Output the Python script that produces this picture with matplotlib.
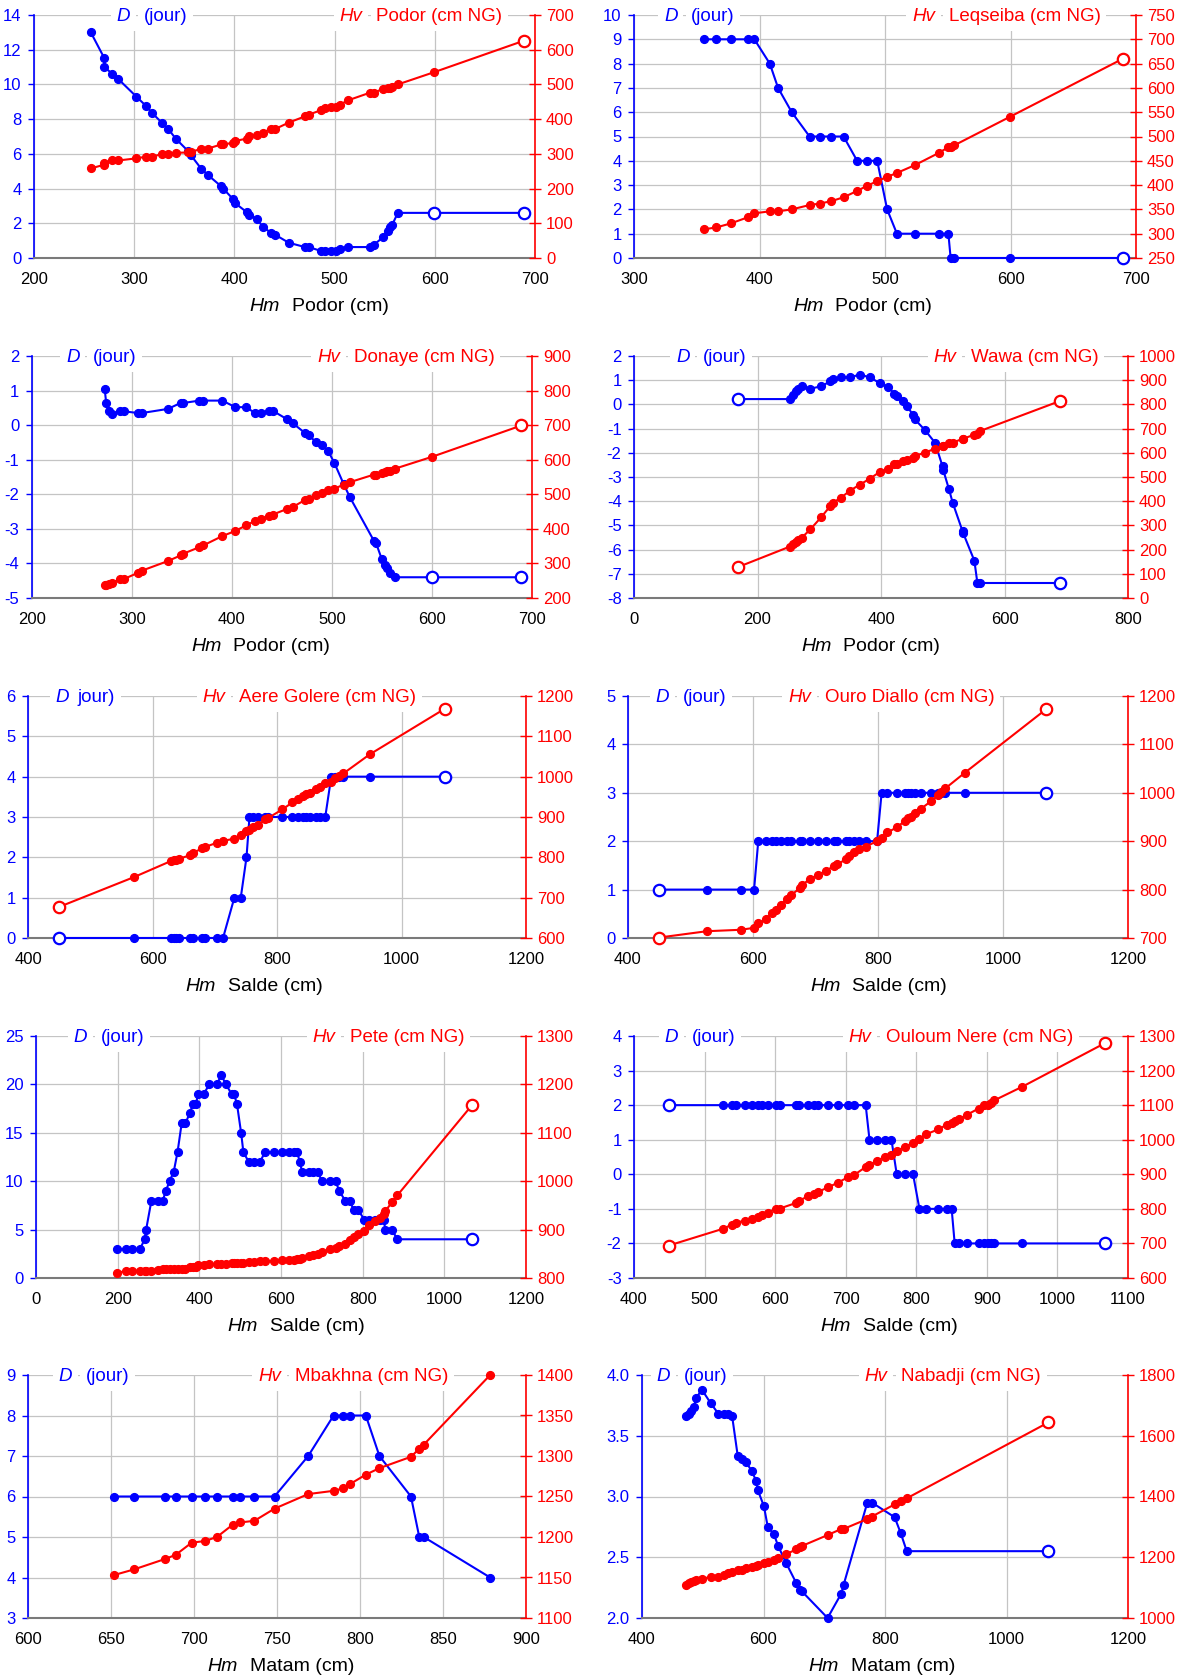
import matplotlib
matplotlib.use("Agg")
import matplotlib.pyplot as plt
from matplotlib.ticker import FormatStrFormatter
import numpy as np

plt.rcParams['font.family'] = ['Liberation Sans', 'DejaVu Sans']

BLUE = '#0000ff'
RED = '#ff0000'
GRID = '#c4c4c4'

# ---------------- data ----------------
podor_hm = [256.7, 270.3, 270.3, 278.3, 284.3, 302.1, 312.0, 317.6, 327.5, 333.9, 341.4, 353.6, 356.6, 366.8,
            373.2, 386.8, 389.1, 398.6, 400.5, 412.6, 414.8, 422.4, 428.4, 436.4, 441.0, 454.2, 470.4, 474.2,
            486.7, 490.5, 496.1, 501.8, 505.6, 513.2, 535.1, 539.3, 548.7, 552.9, 555.5, 557.4, 563.1, 599.0, 689.0]
podor_d = [13.0, 11.5, 11.0, 10.6, 10.3, 9.3, 8.75, 8.37, 7.8, 7.44, 6.88, 6.17, 5.92, 5.15, 4.8, 4.13, 3.98,
           3.4, 3.17, 2.63, 2.46, 2.27, 1.79, 1.46, 1.33, 0.88, 0.63, 0.63, 0.4, 0.4, 0.4, 0.4, 0.54, 0.63, 0.63,
           0.77, 1.21, 1.56, 1.79, 1.9, 2.6, 2.6, 2.6]
podor_hv = [258, 269, 275, 281, 281, 287, 292, 292, 299, 299, 303, 304, 306, 314, 315, 327, 327, 332, 337, 344,
            351, 354, 361, 372, 372, 390, 408, 413, 426, 431, 436, 436, 442, 454, 476, 476, 488, 491, 491, 493,
            500, 535, 626]

leqseiba_hm = [355.8, 365.7, 376.9, 391.0, 395.9, 408.2, 414.8, 425.7, 439.9, 448.0, 457.3, 467.0, 477.8, 486.0,
               493.8, 501.7, 509.5, 523.7, 542.7, 550.5, 552.3, 555.3, 599.9, 689.5]
leqseiba_d = [9, 9, 9, 9, 9, 8, 7, 6, 5, 5, 5, 5, 4, 4, 4, 2, 1, 1, 1, 1, 0, 0, 0, 0]
leqseiba_hv = [309, 313, 321, 334, 342, 346, 346, 350, 359, 362, 367, 375, 388, 399, 408, 417, 425, 441, 466,
               478, 479, 482, 541, 660]

donaye_hm = [272.7, 274.2, 276.5, 279.5, 288.3, 292.0, 306.1, 309.8, 336.0, 348.5, 351.1, 367.4, 371.2, 390.2,
             403.4, 414.0, 423.1, 429.2, 436.7, 440.5, 454.5, 460.6, 472.7, 476.5, 484.1, 489.8, 496.2, 502.3,
             511.6, 517.8, 542.0, 543.9, 549.6, 553.0, 555.3, 558.0, 562.9, 599.6, 689.4]
donaye_d = [1.04, 0.64, 0.40, 0.33, 0.40, 0.40, 0.35, 0.35, 0.47, 0.64, 0.64, 0.71, 0.71, 0.71, 0.52, 0.52,
            0.35, 0.35, 0.42, 0.42, 0.18, 0.06, -0.22, -0.28, -0.50, -0.57, -0.75, -1.09, -1.70, -2.08, -3.35,
            -3.40, -3.86, -4.04, -4.12, -4.28, -4.40, -4.40, -4.40]
donaye_hv = [238, 239, 241, 243, 255, 255, 273, 279, 307, 323, 328, 347, 352, 379, 394, 410, 423, 429, 438, 441,
             457, 463, 483, 487, 498, 505, 511, 516, 528, 535, 557, 557, 563, 564, 567, 567, 574, 608, 699]

wawa_hm = [168.6, 252.0, 256.9, 261.8, 265.5, 271.6, 285.7, 303.5, 317.6, 322.5, 335.4, 350.1, 365.4, 382.0,
           397.9, 412.0, 421.8, 426.1, 435.9, 442.1, 451.9, 454.9, 471.5, 487.4, 499.7, 500.9, 510.1, 516.2,
           532.2, 532.8, 551.2, 556.1, 560.4, 689.8]
wawa_d = [0.22, 0.22, 0.37, 0.54, 0.65, 0.75, 0.65, 0.75, 0.95, 1.05, 1.12, 1.12, 1.23, 1.12, 0.88, 0.72, 0.43,
          0.35, 0.14, -0.05, -0.45, -0.62, -1.07, -1.58, -2.56, -2.72, -3.51, -4.07, -5.25, -5.30, -6.46, -7.38,
          -7.38, -7.38]
wawa_hv = [128, 212, 222, 231, 240, 249, 284, 335, 379, 394, 415, 444, 468, 493, 521, 533, 552, 552, 566, 569,
           580, 587, 601, 617, 628, 628, 642, 642, 658, 658, 675, 678, 690, 814]

aere_hm = [449.9, 570.3, 629.9, 634.2, 638.4, 643.3, 660.3, 664.6, 679.8, 684.7, 703.5, 713.3, 731.5, 741.8,
           751.0, 755.8, 761.9, 769.2, 781.4, 786.3, 808.8, 824.6, 833.1, 841.0, 847.1, 853.2, 862.3, 868.4,
           877.5, 887.2, 893.9, 898.8, 906.7, 948.7, 1069.1]
aere_d = [0, 0, 0, 0, 0, 0, 0, 0, 0, 0, 0, 0, 1, 1, 2, 3, 3, 3, 3, 3, 3, 3, 3, 3, 3, 3, 3, 3, 3, 4, 4, 4, 4, 4, 4]
aere_hv = [677, 751, 791, 793, 794, 797, 805, 811, 822, 826, 836, 841, 846, 856, 865, 869, 874, 880, 894, 898,
           919, 936, 944, 952, 956, 960, 970, 974, 985, 988, 997, 1002, 1008, 1055, 1168]

ouro_hm = [450.3, 526.0, 580.5, 601.7, 608.4, 621.1, 630.2, 636.8, 645.3, 654.4, 660.4, 675.0, 678.6, 690.7,
           704.0, 716.8, 730.1, 734.9, 748.9, 754.3, 762.2, 770.1, 780.4, 798.5, 805.8, 814.9, 830.7, 842.8,
           848.2, 853.1, 859.1, 868.8, 885.2, 896.7, 901.5, 907.6, 938.5, 1069.3]
ouro_d = [1, 1, 1, 1, 2, 2, 2, 2, 2, 2, 2, 2, 2, 2, 2, 2, 2, 2, 2, 2, 2, 2, 2, 2, 3, 3, 3, 3, 3, 3, 3, 3, 3, 3,
          3, 3, 3, 3]
ouro_hv = [701, 714, 717, 721, 730, 739, 752, 757, 769, 781, 788, 803, 809, 822, 830, 839, 849, 852, 863, 869,
           878, 884, 889, 900, 907, 918, 929, 942, 947, 950, 958, 967, 983, 995, 1002, 1009, 1041, 1173]

pete_hm = [197.4, 220.6, 236.3, 254.9, 266.0, 269.7, 282.7, 298.4, 310.5, 317.9, 327.2, 337.4, 346.6, 356.8,
           366.1, 376.3, 384.6, 391.1, 397.6, 410.6, 424.5, 443.9, 453.2, 465.2, 479.1, 484.7, 492.1, 502.3,
           507.9, 520.9, 532.9, 548.7, 560.7, 582.0, 601.5, 620.0, 632.1, 639.5, 646.0, 651.5, 668.2, 678.4,
           690.5, 699.7, 720.1, 734.0, 742.4, 757.2, 769.2, 777.6, 789.6, 804.4, 816.5, 829.5, 841.5, 851.7,
           855.4, 871.2, 885.1, 1068.6]
pete_d = [3, 3, 3, 3, 4, 5, 8, 8, 8, 9, 10, 11, 13, 16, 16, 17, 18, 18, 19, 19, 20, 20, 21, 20, 19, 19, 18, 15,
          13, 12, 12, 12, 13, 13, 13, 13, 13, 13, 12, 11, 11, 11, 11, 10, 10, 10, 9, 8, 8, 7, 7, 6, 6, 6, 6, 6,
          5, 5, 4, 4]
pete_hv = [810, 815, 815, 815, 815, 815, 815, 816, 818, 818, 819, 819, 819, 819, 819, 822, 823, 823, 826, 827,
           828, 828, 829, 829, 830, 830, 830, 831, 832, 833, 834, 835, 836, 835, 837, 837, 838, 839, 840, 841,
           846, 847, 850, 854, 859, 862, 866, 870, 878, 885, 890, 897, 909, 918, 925, 933, 938, 956, 971, 1158]

ouloum_hm = [449.4, 525.5, 538.4, 544.8, 556.7, 567.4, 575.4, 581.9, 590.5, 600.6, 606.5, 629.6, 634.4, 646.2,
             654.8, 660.7, 674.7, 689.2, 702.6, 711.2, 728.3, 733.7, 744.4, 756.2, 764.8, 772.3, 783.6, 795.4,
             804.5, 814.2, 831.3, 843.7, 850.1, 854.4, 860.3, 871.6, 888.2, 896.2, 902.1, 905.4, 910.7, 949.9,
             1067.9]
ouloum_d = [2, 2, 2, 2, 2, 2, 2, 2, 2, 2, 2, 2, 2, 2, 2, 2, 2, 2, 2, 2, 2, 1, 1, 1, 1, 0, 0, 0, -1, -1, -1, -1,
            -1, -2, -2, -2, -2, -2, -2, -2, -2, -2, -2]
ouloum_hv = [694, 742, 754, 760, 766, 772, 777, 783, 789, 801, 801, 817, 824, 836, 843, 849, 862, 876, 891, 897,
             921, 927, 939, 951, 957, 967, 979, 991, 1003, 1016, 1030, 1044, 1048, 1053, 1059, 1072, 1090, 1099,
             1101, 1107, 1114, 1153, 1280]

mbakhna_hm = [651.8, 663.9, 682.8, 689.0, 698.6, 706.5, 713.8, 723.2, 728.0, 736.4, 748.5, 768.8, 784.1, 789.8,
              793.7, 803.5, 811.7, 830.7, 835.7, 838.4, 878.4]
mbakhna_d = [6, 6, 6, 6, 6, 6, 6, 6, 6, 6, 6, 7, 8, 8, 8, 8, 7, 6, 5, 5, 4]
mbakhna_hv = [1153, 1160, 1173, 1178, 1193, 1195, 1200, 1215, 1218, 1220, 1235, 1253, 1257, 1260, 1265, 1277,
              1285, 1299, 1309, 1314, 1400]

nabadji_hm = [472.9, 477.3, 481.0, 485.4, 489.2, 498.5, 512.8, 525.9, 534.7, 541.5, 548.4, 557.7, 565.2, 571.4,
              580.8, 587.7, 590.8, 600.7, 607.0, 617.0, 624.4, 637.5, 653.7, 660.0, 663.1, 705.5, 727.9, 731.7,
              770.9, 778.4, 815.8, 825.8, 835.8, 1069.0]
nabadji_d = [3.66, 3.68, 3.70, 3.74, 3.81, 3.88, 3.77, 3.68, 3.68, 3.68, 3.66, 3.33, 3.31, 3.28, 3.21, 3.13,
             3.05, 2.92, 2.75, 2.69, 2.59, 2.45, 2.29, 2.23, 2.22, 2.00, 2.20, 2.27, 2.95, 2.95, 2.83, 2.70, 2.55,
             2.55]
nabadji_hv = [1108, 1114, 1117, 1121, 1125, 1128, 1136, 1136, 1143, 1147, 1151, 1158, 1158, 1163, 1169, 1171,
              1174, 1180, 1185, 1191, 1196, 1210, 1226, 1235, 1237, 1273, 1293, 1293, 1326, 1334, 1374, 1386,
              1394, 1644]

panels = [
    dict(hm=podor_hm, d=podor_d, hv=podor_hv, d_open=[-2, -1], hv_open=[-1],
         station='Podor (cm NG)', djour='(jour)', hmst='Podor (cm)',
         xlim=(200, 700, 100), dlim=(0, 14, 2), hvlim=(0, 700, 100), dfmt='%d',
         box=(34, 15, 535, 258), dx=0.165, hvx=0.61, hmx=0.43),
    dict(hm=leqseiba_hm, d=leqseiba_d, hv=leqseiba_hv, d_open=[-1], hv_open=[-1],
         station='Leqseiba (cm NG)', djour='(jour)', hmst='Podor (cm)',
         xlim=(300, 700, 100), dlim=(0, 10, 1), hvlim=(250, 750, 50), dfmt='%d',
         box=(634, 15, 1136, 258), dx=0.06, hvx=0.554, hmx=0.317),
    dict(hm=donaye_hm, d=donaye_d, hv=donaye_hv, d_open=[-2, -1], hv_open=[-1],
         station='Donaye (cm NG)', djour='(jour)', hmst='Podor (cm)',
         xlim=(200, 700, 100), dlim=(-5, 2, 1), hvlim=(200, 900, 100), dfmt='%d',
         box=(32, 356, 532, 598), dx=0.068, hvx=0.57, hmx=0.318),
    dict(hm=wawa_hm, d=wawa_d, hv=wawa_hv, d_open=[0, -1], hv_open=[0, -1],
         station='Wawa (cm NG)', djour='(jour)', hmst='Podor (cm)',
         xlim=(0, 800, 200), dlim=(-8, 2, 1), hvlim=(0, 1000, 100), dfmt='%d',
         box=(634, 356, 1128, 598), dx=0.085, hvx=0.607, hmx=0.338),
    dict(hm=aere_hm, d=aere_d, hv=aere_hv, d_open=[0, -1], hv_open=[0, -1],
         station='Aere Golere (cm NG)', djour='jour)', hmst='Salde (cm)',
         xlim=(400, 1200, 200), dlim=(0, 6, 1), hvlim=(600, 1200, 100), dfmt='%d',
         box=(28, 696, 526, 938), dx=0.055, hvx=0.35, hmx=0.317),
    dict(hm=ouro_hm, d=ouro_d, hv=ouro_hv, d_open=[0, -1], hv_open=[0, -1],
         station='Ouro Diallo (cm NG)', djour='(jour)', hmst='Salde (cm)',
         xlim=(400, 1200, 200), dlim=(0, 5, 1), hvlim=(700, 1200, 100), dfmt='%d',
         box=(628, 696, 1128, 938), dx=0.055, hvx=0.32, hmx=0.364),
    dict(hm=pete_hm, d=pete_d, hv=pete_hv, d_open=[-1], hv_open=[-1],
         station='Pete (cm NG)', djour='(jour)', hmst='Salde (cm)',
         xlim=(0, 1200, 200), dlim=(0, 25, 5), hvlim=(800, 1300, 100), dfmt='%d',
         box=(36, 1036, 526, 1278), dx=0.077, hvx=0.565, hmx=0.391),
    dict(hm=ouloum_hm, d=ouloum_d, hv=ouloum_hv, d_open=[0, -1], hv_open=[0, -1],
         station='Ouloum Nere (cm NG)', djour='(jour)', hmst='Salde (cm)',
         xlim=(400, 1100, 100), dlim=(-3, 4, 1), hvlim=(600, 1300, 100), dfmt='%d',
         box=(634, 1036, 1128, 1278), dx=0.062, hvx=0.435, hmx=0.377),
    dict(hm=mbakhna_hm, d=mbakhna_d, hv=mbakhna_hv, d_open=[], hv_open=[],
         station='Mbakhna (cm NG)', djour='(jour)', hmst='Matam (cm)',
         xlim=(600, 900, 50), dlim=(3, 9, 1), hvlim=(1100, 1400, 50), dfmt='%d',
         box=(28, 1375, 526, 1618), dx=0.062, hvx=0.462, hmx=0.36),
    dict(hm=nabadji_hm, d=nabadji_d, hv=nabadji_hv, d_open=[-1], hv_open=[-1],
         station='Nabadji (cm NG)', djour='(jour)', hmst='Matam (cm)',
         xlim=(400, 1200, 200), dlim=(2.0, 4.0, 0.5), hvlim=(1000, 1800, 200), dfmt='%.1f',
         box=(642, 1375, 1128, 1618), dx=0.03, hvx=0.458, hmx=0.343),
]

W, H = 1195, 1677
fig = plt.figure(figsize=(W / 100, H / 100), dpi=100)
fig.patch.set_facecolor('white')


def series(ax, x, y, open_idx, color):
    x = np.asarray(x, float)
    y = np.asarray(y, float)
    n = len(x)
    op = sorted(set(i % n for i in open_idx))
    fl = [i for i in range(n) if i not in op]
    ax.plot(x, y, '-', color=color, lw=1.5, zorder=3, clip_on=False)
    ax.plot(x[fl], y[fl], 'o', color=color, mec=color, ms=5.6, zorder=4, clip_on=False)
    if op:
        ax.plot(x[op], y[op], 'o', mfc='white', mec=color, mew=1.6, ms=8.2, zorder=4, clip_on=False)


TICK_FS = 12
for p in panels:
    l, t, r, b = p['box']
    ax = fig.add_axes([l / W, 1 - b / H, (r - l) / W, (b - t) / H])
    ax2 = ax.twinx()

    x0, x1, xs = p['xlim']
    d0, d1, ds = p['dlim']
    h0, h1, hs = p['hvlim']
    ax.set_xlim(x0, x1)
    ax.set_xticks(np.arange(x0, x1 + xs / 2, xs))
    ax.set_ylim(d0, d1)
    ax.set_yticks(np.arange(d0, d1 + ds / 2, ds))
    ax.yaxis.set_major_formatter(FormatStrFormatter(p['dfmt']))
    ax2.set_ylim(h0, h1)
    ax2.set_yticks(np.arange(h0, h1 + hs / 2, hs))
    ax2.yaxis.set_major_formatter(FormatStrFormatter('%d'))

    ax.grid(True, color=GRID, lw=0.9)
    ax.set_axisbelow(True)

    series(ax, p['hm'], p['d'], p['d_open'], BLUE)
    series(ax2, p['hm'], p['hv'], p['hv_open'], RED)

    for s in ('top', 'right'):
        ax.spines[s].set_visible(False)
    ax.spines['left'].set_color(BLUE)
    ax.spines['left'].set_linewidth(1.2)
    ax.spines['bottom'].set_color('#7a7a7a')
    ax.spines['bottom'].set_linewidth(1.5)
    for s in ('top', 'left', 'bottom'):
        ax2.spines[s].set_visible(False)
    ax2.spines['right'].set_color(RED)
    ax2.spines['right'].set_linewidth(1.2)

    ax.tick_params(axis='y', colors=BLUE, direction='out', length=4, width=1, labelsize=TICK_FS, pad=5)
    ax.tick_params(axis='x', length=0, labelsize=TICK_FS, pad=10, labelcolor='black')
    ax2.tick_params(axis='y', colors=RED, direction='inout', length=8, width=1, labelsize=TICK_FS, pad=4)

    kw = dict(xycoords='axes fraction', textcoords='offset points', va='center', ha='left',
              fontsize=13.5, zorder=2.5, annotation_clip=False,
              bbox=dict(fc='white', ec='none', pad=4))
    ax.annotate('D', xy=(p['dx'], 1), xytext=(0, -1), color=BLUE, style='italic', **kw)
    joff = 19.5 if p['djour'].startswith('(') else 16
    ax.annotate(p['djour'], xy=(p['dx'], 1), xytext=(joff, -1), color=BLUE, **kw)
    ax.annotate('Hv', xy=(p['hvx'], 1), xytext=(0, -1), color=RED, style='italic', **kw)
    ax.annotate(p['station'], xy=(p['hvx'], 1), xytext=(26.5, -1), color=RED, **kw)

    kx = dict(xycoords='axes fraction', textcoords='offset points', va='center', ha='left',
              fontsize=14, annotation_clip=False, color='black')
    ax.annotate('Hm', xy=(p['hmx'], 0), xytext=(0, -35), style='italic', **kx)
    ax.annotate(p['hmst'], xy=(p['hmx'], 0), xytext=(30.5, -35), **kx)

fig.savefig('out.png', dpi=100, facecolor='white')
